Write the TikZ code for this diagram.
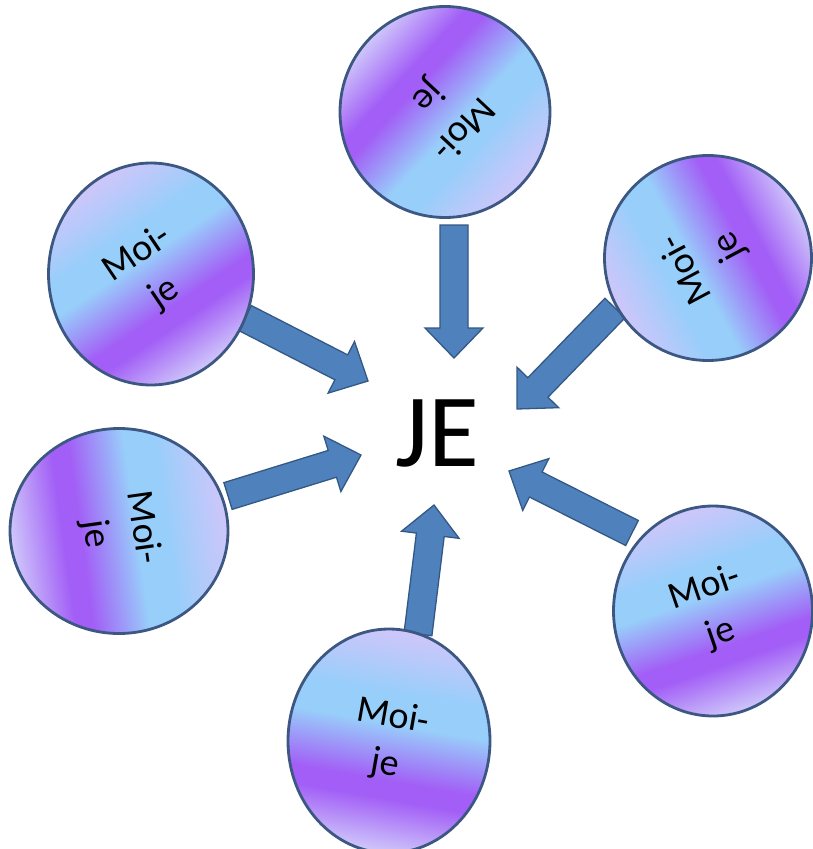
\documentclass[tikz,border=0pt]{standalone}
\usepackage{fontspec}
\setmainfont{Carlito}
\usetikzlibrary{calc,shapes.geometric}
\definecolor{lav}{RGB}{206,198,250}
\definecolor{lblue}{RGB}{152,206,250}
\definecolor{purp}{RGB}{162,94,246}
\definecolor{rim}{RGB}{60,88,130}
\definecolor{arrfill}{RGB}{79,129,189}
\definecolor{arrline}{RGB}{52,88,132}
\pgfdeclareverticalshading{moije}{100bp}{color(0bp)=(lav); color(25bp)=(lav); color(37bp)=(purp); color(41bp)=(purp); color(54bp)=(lblue); color(61bp)=(lblue); color(75bp)=(lav); color(100bp)=(lav)}
\tikzset{
  moi/.style={ellipse, draw=rim, line width=2.8pt, shading=moije, inner sep=0pt},
  moitxt/.style={font=\fontsize{38}{48}\selectfont, align=center, text=black, inner sep=0pt},
  barrow/.style={fill=arrfill, draw=arrline, line width=1.3pt, line join=miter},
  jetxt/.style={font=\fontsize{104}{110}\selectfont, text=black, inner sep=0pt}
}
\newcommand{\blockarr}[2]{%
  \path ($(#2)!30pt!(#1)$) coordinate (bh);
  \draw[barrow] ($(#1)!14pt!90:(#2)$) -- ($(bh)!14pt!-90:(#1)$) -- ($(bh)!29pt!-90:(#1)$) -- (#2) -- ($(bh)!29pt!90:(#1)$) -- ($(bh)!14pt!90:(#1)$) -- ($(#1)!14pt!-90:(#2)$) -- cycle;}
\begin{document}
\begin{tikzpicture}[x=1pt,y=-1pt]
\fill[white] (0,0) rectangle (813,849);
\useasboundingbox (0,0) rectangle (813,849);
% arrow end points
\coordinate (s1) at (454,225); \coordinate (t1) at (454,358);
\coordinate (s2) at (245,318); \coordinate (t2) at (368,381);
\coordinate (s3) at (615,308); \coordinate (t3) at (517,409);
\coordinate (s4) at (228,496); \coordinate (t4) at (361,455);
\coordinate (s5) at (632,533); \coordinate (t5) at (509,471);
\coordinate (s6) at (418,634); \coordinate (t6) at (434,505);
\blockarr{s1}{t1}
\blockarr{s2}{t2}
\blockarr{s3}{t3}
\blockarr{s4}{t4}
\blockarr{s5}{t5}
\blockarr{s6}{t6}
% circles
\node[moi, minimum width=210pt, minimum height=211pt, shading angle=227] (c1) at (445,112) {};
\node[moi, minimum width=205pt, minimum height=222pt, shading angle=34]  (c2) at (151,274) {};
\node[moi, minimum width=207pt, minimum height=205pt, shading angle=118] (c3) at (708,258) {};
\node[moi, minimum width=218pt, minimum height=205pt, shading angle=-82] (c4) at (119,531) {};
\node[moi, minimum width=199pt, minimum height=210pt, shading angle=19]  (c5) at (713,611) {};
\node[moi, minimum width=202pt, minimum height=224pt, shading angle=-10] (c6) at (389,741) {};
% labels
\node[moitxt, rotate=227] (l1) at (c1) {Moi-\\je};
\node[moitxt, rotate=34]  (l2) at (c2) {Moi-\\je};
\node[moitxt, rotate=118] (l3) at (c3) {Moi-\\je};
\node[moitxt, rotate=-82] (l4) at (c4) {Moi-\\je};
\node[moitxt, rotate=19]  (l5) at (c5) {Moi-\\je};
\node[moitxt, rotate=-10] (l6) at (c6) {Moi-\\je};
\node[jetxt] (je) at (437,433) {JE};
\end{tikzpicture}
\end{document}
